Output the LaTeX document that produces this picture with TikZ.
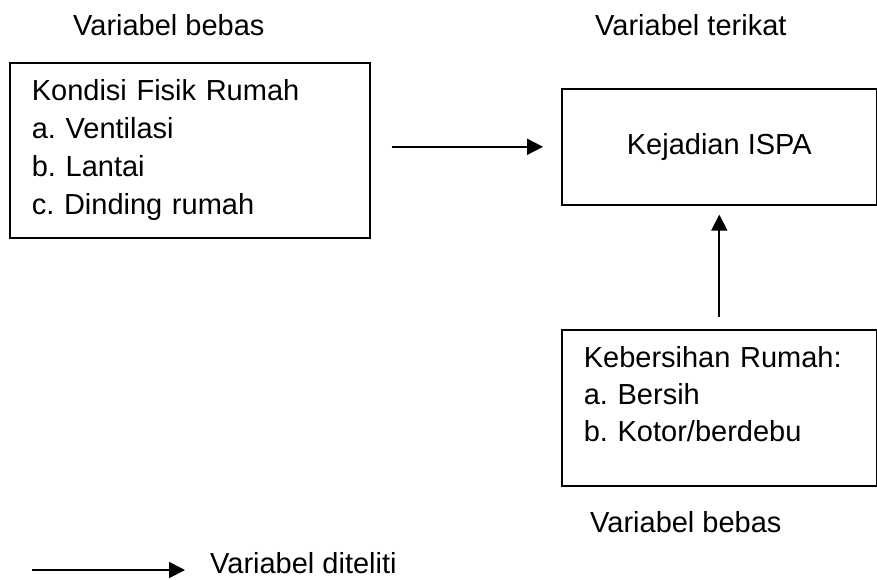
\documentclass[tikz,border=0pt]{standalone}
\usepackage{fontspec}
\setmainfont{Liberation Sans}
\usetikzlibrary{arrows.meta, calc}

\begin{document}
\begin{tikzpicture} [
        x=1pt, y=-1pt,
        every node/.style={font=\fontsize{29}{38}\selectfont\frenchspacing},
        box/.style={draw, line width=1.6pt, anchor=north west, inner xsep=22pt},
        var label/.style={anchor=base west, inner sep=0pt},
        arrow/.style={line width=1.8pt, -{Triangle[length=16pt, width=16pt]}},
    ]
    \useasboundingbox (0,0) rectangle (877,579);

    \node[var label] (bebas top) at (73,35) {Variabel bebas};
    \node[var label] (terikat) at (595,35) {Variabel terikat};

    \node[box, align=left, text width=316pt, minimum height=175pt] (kondisi) at (9,62)
        {Kondisi Fisik Rumah\\a. Ventilasi\\b. Lantai\\c. Dinding rumah};
    \node[box, align=center, minimum width=315pt, minimum height=116pt] (kejadian) at (561,88)
        {Kejadian ISPA};
    \node[box, align=left, text width=271pt, minimum height=156pt,
        font=\fontsize{29}{37}\selectfont\frenchspacing] (kebersihan) at (561,329)
        {Kebersihan Rumah:\\a. Bersih\\b. Kotor/berdebu\\[-10pt]\mbox{}};

    \node[var label] (bebas bottom) at (590,532) {Variabel bebas};

    \draw[arrow, shorten <=21pt, shorten >=18pt] (kondisi.east |- kejadian.west) -- (kejadian.west);
    \draw[arrow, shorten <=12pt, shorten >=9pt] (kebersihan.north) -- (kejadian.south);

    % keterangan
    \coordinate (legend start) at (32,570);
    \node[var label] (diteliti) at (210,573) {Variabel diteliti};
    \draw[arrow, shorten >=25pt] (legend start) -- (legend start -| diteliti.west);

\end{tikzpicture}
\end{document}
